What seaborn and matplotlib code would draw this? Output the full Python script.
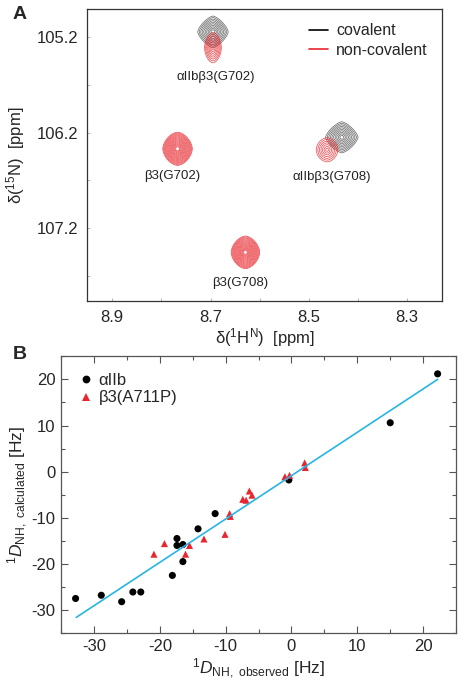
import numpy as np
import pandas as pd
import matplotlib
matplotlib.use("Agg")
import matplotlib.pyplot as plt
from matplotlib.lines import Line2D
from matplotlib.ticker import MultipleLocator, FixedLocator
import seaborn as sns

# Panel A: peak centres, outer-contour half widths and ring counts
peak_state = ['covalent', 'non-covalent', 'non-covalent',
              'covalent', 'non-covalent', 'non-covalent']
peak_h = [8.695, 8.695, 8.767, 8.433, 8.463, 8.629]
peak_n = [105.15, 105.315, 106.37, 106.25, 106.38, 107.45]
peak_half_h = [0.031, 0.017, 0.030, 0.033, 0.022, 0.029]
peak_half_n = [0.165, 0.157, 0.173, 0.162, 0.126, 0.170]
peak_rings = [10, 8, 16, 10, 7, 16]
peak_shape = [1.4, 1.8, 1.7, 1.4, 1.8, 1.7]

label_text = ['αIIbβ3(G702)', 'β3(G702)', 'αIIbβ3(G708)', 'β3(G708)']
label_h = [8.69, 8.777, 8.453, 8.639]
label_n = [105.62, 106.65, 106.66, 107.77]

# Panel B: observed vs calculated couplings
alpha_obs = [-32.8, -28.9, -25.8, -24.1, -22.9, -18.1, -16.5, -17.4, -17.4,
             -16.5, -14.2, -11.6, -0.4, 15.0, 22.2]
alpha_calc = [-27.5, -26.8, -28.2, -26.1, -26.1, -22.5, -19.5, -14.5, -16.0,
              -15.8, -12.4, -9.1, -1.8, 10.6, 21.2]
beta_obs = [-20.9, -19.3, -16.1, -15.5, -13.3, -10.1, -9.4, -9.3, -7.4,
            -6.9, -6.4, -6.0, -1.0, -0.3, 2.0, 2.1]
beta_calc = [-17.9, -15.6, -17.9, -16.0, -14.6, -13.6, -9.1, -9.7, -6.0,
             -6.2, -4.2, -5.1, -1.1, -0.8, 1.9, 0.9]
fit_obs = [-32.7, 22.2]
fit_calc = [-31.6, 20.0]

sns.set_style("ticks")
plt.rcParams['font.family'] = ['Liberation Sans', 'DejaVu Sans']
plt.rcParams['mathtext.fontset'] = 'custom'
plt.rcParams['mathtext.rm'] = 'Liberation Sans'
plt.rcParams['mathtext.it'] = 'Liberation Sans:italic'
plt.rcParams['mathtext.bf'] = 'Liberation Sans:bold'
plt.rcParams['axes.unicode_minus'] = False

state_colors = {'covalent': '#4a4a4a', 'non-covalent': '#e8262d'}

fig = plt.figure(figsize=(4.63, 6.8), dpi=100)
ax_a = fig.add_axes([0.188, 0.557, 0.767, 0.430])
ax_b = fig.add_axes([0.132, 0.069, 0.853, 0.407])

# ---- Panel A: contour overlay (covalent first, non-covalent on top)
gh = np.linspace(8.23, 8.95, 700)
gn = np.linspace(104.9, 107.96, 800)
H, N = np.meshgrid(gh, gn)
for state in ['covalent', 'non-covalent']:
    for s, h0, n0, wh, wn, nr, p in zip(peak_state, peak_h, peak_n,
                                        peak_half_h, peak_half_n,
                                        peak_rings, peak_shape):
        if s != state:
            continue
        r = np.abs((H - h0) / wh) ** p + np.abs((N - n0) / wn) ** p
        field = 0.05 ** r
        # rings evenly spaced from the centre to the outer edge
        levels = np.sort(0.05 ** (np.linspace(0.13, 1.0, nr) ** p))
        ax_a.contour(H, N, field, levels=levels, colors=state_colors[state],
                     linewidths=0.55, alpha=0.8)

for t, h, n in zip(label_text, label_h, label_n):
    ax_a.text(h, n, t, ha='center', va='center', fontsize=9.5,
              color='#222222')

ax_a.set_xlim(8.951, 8.229)
ax_a.set_ylim(107.96, 104.91)
ax_a.xaxis.set_major_locator(FixedLocator([8.9, 8.7, 8.5, 8.3]))
ax_a.xaxis.set_minor_locator(FixedLocator([8.8, 8.6, 8.4]))
ax_a.yaxis.set_major_locator(FixedLocator([105.2, 106.2, 107.2]))
ax_a.yaxis.set_minor_locator(FixedLocator([105.7, 106.7, 107.7]))
ax_a.tick_params(which='both', direction='in', length=2.5, width=0.6,
                 color='#8fb0d8', labelsize=12, pad=6)
for sp in ax_a.spines.values():
    sp.set_visible(True)
    sp.set_color('#333333')
    sp.set_linewidth(0.9)
ax_a.set_xlabel(r'δ($^{1}$H$^{\rm N}$)  [ppm]', fontsize=12, labelpad=1)
ax_a.set_ylabel(r'δ($^{15}$N)  [ppm]', fontsize=12, labelpad=7)

leg_handles = [Line2D([], [], color='black', lw=1.2),
               Line2D([], [], color='#e8262d', lw=1.2)]
ax_a.legend(leg_handles, ['covalent', 'non-covalent'], loc='upper right',
            frameon=False, fontsize=11.5, handlelength=1.2,
            handletextpad=0.5, labelspacing=0.3, borderaxespad=0.5)

# ---- Panel B: RDC correlation
df = pd.DataFrame({
    'observed': alpha_obs + beta_obs,
    'calculated': alpha_calc + beta_calc,
    'group': ['αIIb'] * len(alpha_obs) + ['β3(A711P)'] * len(beta_obs),
})
fit = pd.DataFrame({'observed': fit_obs, 'calculated': fit_calc})

sns.lineplot(data=fit, x='observed', y='calculated', color='#27b4e6',
             lw=1.2, ax=ax_b)
sns.scatterplot(data=df, x='observed', y='calculated', hue='group',
                style='group',
                palette={'αIIb': 'black', 'β3(A711P)': '#e8262d'},
                markers={'αIIb': 'o', 'β3(A711P)': '^'},
                s=26, linewidth=0, ax=ax_b)

ax_b.set_xlim(-35, 25)
ax_b.set_ylim(-35, 25)
ax_b.xaxis.set_major_locator(MultipleLocator(10))
ax_b.xaxis.set_minor_locator(MultipleLocator(5))
ax_b.yaxis.set_major_locator(MultipleLocator(10))
ax_b.yaxis.set_minor_locator(MultipleLocator(5))
ax_b.tick_params(which='both', direction='in', top=True, right=True,
                 color='#555555', width=0.8, labelsize=12, pad=4)
ax_b.tick_params(which='major', length=5)
ax_b.tick_params(which='minor', length=3)
for sp in ax_b.spines.values():
    sp.set_visible(True)
    sp.set_color('#555555')
    sp.set_linewidth(0.9)
ax_b.set_xlabel(r'$^{1}D_{\mathrm{NH,\ observed}}$ [Hz]', fontsize=12.5,
                labelpad=2)
ax_b.set_ylabel(r'$^{1}D_{\mathrm{NH,\ calculated}}$ [Hz]', fontsize=12.5,
                labelpad=1)
ax_b.legend(loc='upper left', frameon=False, fontsize=12, title=None,
            handlelength=1.0, handletextpad=0.25, labelspacing=0.15,
            borderaxespad=0.6, markerscale=1.1)

fig.text(0.028, 0.979, 'A', fontsize=14, fontweight='bold', va='center')
fig.text(0.028, 0.479, 'B', fontsize=14, fontweight='bold', va='center')

fig.savefig('out.png', dpi=100)
